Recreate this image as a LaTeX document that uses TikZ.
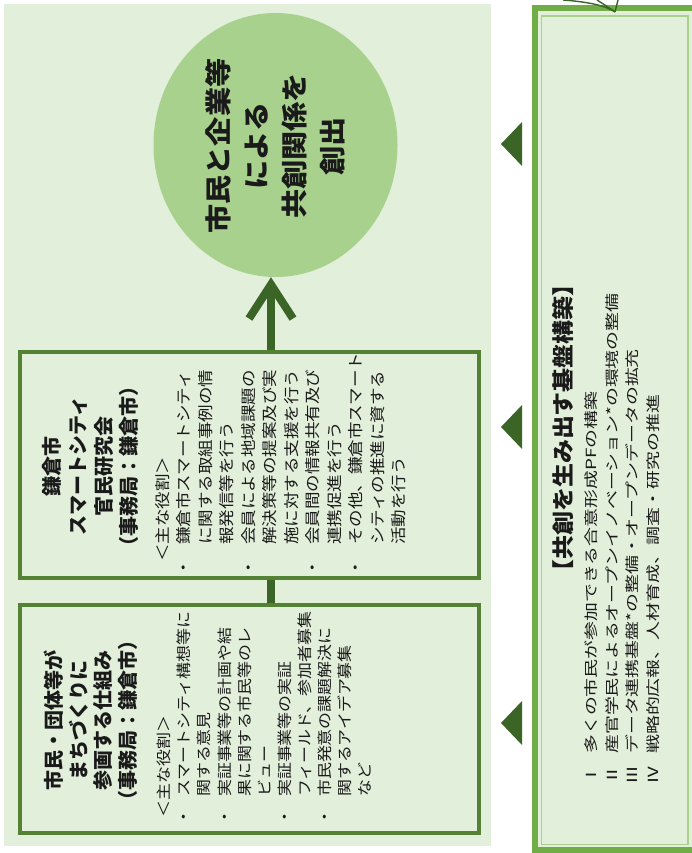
\documentclass[tikz,border=0pt]{standalone}
\usepackage{fontspec}
\newfontfamily\jp{Noto Sans CJK JP}
\usetikzlibrary{shapes.geometric,arrows.meta}
\definecolor{panelfill}{HTML}{E2EFDA}
\definecolor{circfill}{HTML}{A9D18E}
\definecolor{boxline}{HTML}{548235}
\definecolor{dk}{HTML}{3B6526}
\definecolor{outerline}{HTML}{70AD47}
\definecolor{innerline}{HTML}{A9D18E}
\definecolor{txt}{HTML}{1A1A1A}
\newlength\bw
\newcommand\bl[1]{\makebox[\bw][l]{・}#1}
\newcommand\ct[1]{\hspace*{\bw}#1}
\newcommand\rl[2]{\makebox[23pt][l]{#1}#2}
\begin{document}
\begin{tikzpicture}[x=1pt,y=-1pt,
  vtext/.style={rotate=90, inner sep=0pt, text=txt},
  boxst/.style={draw=boxline, line width=4pt, fill=panelfill, inner sep=0pt},
  conn/.style={draw=dk, line width=8pt},
  tri/.style={fill=dk}]
\useasboundingbox (0,0) rectangle (691,853);
\fill[white] (0,0) rectangle (691,853);
\fill[panelfill] (4,4) rectangle (491,846);
% right box
\fill[panelfill] (535,8) rectangle (696,850);
\draw[outerline, line width=6pt] (535,8) rectangle (696,850);
\draw[innerline, line width=1.8pt] (541.5,16) rectangle (688,844.5);
% fragment of arrow from above
\draw[dk, line width=1.4pt] (563,0) .. controls (590,2) and (606,6) .. (615,12);
\draw[dk, line width=1.4pt] (597,0) -- (614,11);
\draw[dk, line width=1.4pt] (618,0) -- (615,12);
% triangles
\fill[tri] (501,144) -- (522,122) -- (522,166) -- cycle;
\fill[tri] (501,427) -- (522,405) -- (522,449) -- cycle;
\fill[tri] (501,723) -- (522,701) -- (522,745) -- cycle;
% circle and boxes
\node[ellipse, fill=circfill, minimum width=244pt, minimum height=264pt, inner sep=0pt] (circ) at (275.5,145) {};
\node[boxst, minimum width=459pt, minimum height=226pt] (mid) at (249.5,465) {};
\node[boxst, minimum width=459pt, minimum height=228pt] (bot) at (249.5,719) {};
\coordinate (ax) at (271,0);
\draw[conn] (bot.north -| ax) -- (mid.south -| ax);
\draw[conn, -{Straight Barb[length=34pt,width=44pt]}] (mid.north -| ax) -- (circ.south -| ax);
% circle text
\node[vtext, anchor=base, font=\jp\bfseries\fontsize{26.5}{38}\selectfont] (ctext) at (228,146)
 {\scalebox{1.1}[1]{\begin{tabular}[t]{@{}c@{}}市民と企業等\\による\\共創関係を\\創出\end{tabular}}};
% middle box
\node[vtext, anchor=base, font=\jp\bfseries\fontsize{20}{25.7}\selectfont] (midtitle) at (59.6,466)
 {\begin{tabular}[t]{@{}c@{}}鎌倉市\\スマートシティ\\官民研究会\\（事務局：鎌倉市）\end{tabular}};
\node[vtext, anchor=base west, font=\jp\fontsize{15.5}{21.5}\selectfont] (midbody) at (168,576.75)
 {\setlength\bw{28pt}\scalebox{1.13}[1]{\begin{tabular}[t]{@{}l@{}}
 \hspace*{13pt}＜主な役割＞\\
 \bl{鎌倉市スマートシティ}\\
 \ct{に関する取組事例の情}\\
 \ct{報発信等を行う}\\
 \bl{会員による地域課題の}\\
 \ct{解決策等の提案及び実}\\
 \ct{施に対する支援を行う}\\
 \bl{会員間の情報共有及び}\\
 \ct{連携促進を行う}\\
 \bl{その他、鎌倉市スマート}\\
 \ct{シティの推進に資する}\\
 \ct{活動を行う}\end{tabular}}};
% bottom box
\node[vtext, anchor=base, font=\jp\bfseries\fontsize{20}{24.3}\selectfont] (bottitle) at (61.6,720)
 {\begin{tabular}[t]{@{}c@{}}市民・団体等が\\まちづくりに\\参画する仕組み\\（事務局：鎌倉市）\end{tabular}};
\node[vtext, anchor=base west, font=\jp\fontsize{15}{20.1}\selectfont] (botbody) at (169.7,825.75)
 {\setlength\bw{25.4pt}\scalebox{1.13}[1]{\begin{tabular}[t]{@{}l@{}}
 \hspace*{7pt}＜主な役割＞\\
 \bl{スマートシティ構想等に}\\
 \ct{関する意見}\\
 \bl{実証事業等の計画や結}\\
 \ct{果に関する市民等のレ}\\
 \ct{ビュー}\\
 \bl{実証事業等の実証}\\
 \ct{フィールド、参加者募集}\\
 \bl{市民発意の課題解決に}\\
 \ct{関するアイデア募集}\\
 \ct{など}\end{tabular}}};
% right box text
\node[vtext, anchor=base, font=\jp\bfseries\fontsize{22}{26}\selectfont] (rhead) at (571.4,428)
 {\scalebox{1.09}[1]{【共創を生み出す基盤構築】}};
\node[vtext, anchor=base west, font=\jp\fontsize{14}{20.7}\selectfont] (ritems) at (596.3,785)
 {\scalebox{1.35}[1]{\begin{tabular}[t]{@{}l@{}}
 \rl{Ⅰ}{多くの市民が参加できる合意形成PFの構築}\\
 \rl{Ⅱ}{産官学民によるオープンイノベーション*の環境の整備}\\
 \rl{Ⅲ}{データ連携基盤*の整備・オープンデータの拡充}\\
 \rl{Ⅳ}{戦略的広報、人材育成、調査・研究の推進}\end{tabular}}};
\end{tikzpicture}
\end{document}
